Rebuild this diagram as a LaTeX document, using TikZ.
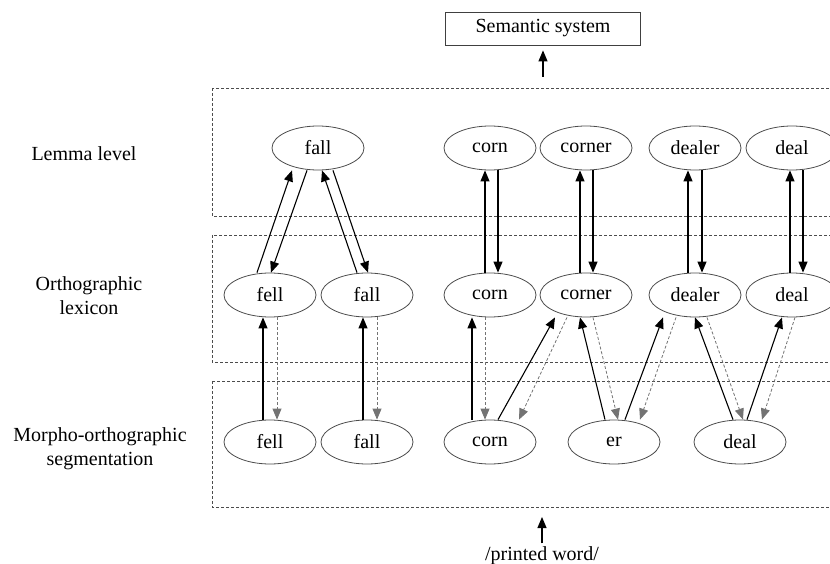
\documentclass[tikz,border=0pt]{standalone}
\usepackage{fontspec}
\setmainfont{Liberation Serif}
\usetikzlibrary{shapes.geometric,arrows.meta}

\tikzset{
    lex/.style={draw=black!70,line width=0.8pt,ellipse,minimum width=92pt,minimum height=44pt,inner sep=0pt},
    layer/.style={draw=black!70,dash pattern=on 3pt off 2pt,line width=0.8pt},
    solidarr/.style={-{Triangle[length=11pt,width=9pt]},line width=1.1pt},
    dotarr/.style={-{Triangle[length=11pt,width=9pt]},draw=black!55,dash pattern=on 3pt off 2pt,line width=0.8pt}
}

\begin{document}
\begin{tikzpicture}[x=1pt,y=-1pt,font=\fontsize{20}{24}\selectfont]
    \clip (0,0) rectangle (830,564);

    \draw[layer] (212,88) rectangle (840,216);
    \draw[layer] (212,235) rectangle (840,362);
    \draw[layer] (212,381) rectangle (840,507);

    \node (lemmalbl) at (84,154) {Lemma level};
    \node[align=center] (ortholbl) at (89,296) {Orthographic\\lexicon};
    \node[align=center] (morpholbl) at (100,449) {Morpho-orthographic\\segmentation};

    \node[draw=black!75,line width=0.8pt,minimum width=195pt,minimum height=33pt,inner sep=0pt] (sem) at (543,28.5) {Semantic system};
    \coordinate (semtail) at (543,77);
    \node (word) at (542,556) {/printed word/};
    \coordinate (wordhead) at (542,517);

    \node[lex] (lfall) at (318,148) {fall};
    \node[lex] (lcorn) at (490,148) {corn};
    \node[lex] (lcorner) at (586,148) {corner};
    \node[lex] (ldealer) at (695,148) {dealer};
    \node[lex] (ldeal) at (792,148) {deal};

    \node[lex] (ofell) at (270,295) {fell};
    \node[lex] (ofall) at (367,295) {fall};
    \node[lex] (ocorn) at (490,295) {corn};
    \node[lex] (ocorner) at (586,295) {corner};
    \node[lex] (odealer) at (695,295) {dealer};
    \node[lex] (odeal) at (792,295) {deal};

    \node[lex] (mfell) at (270,442) {fell};
    \node[lex] (mfall) at (367,442) {fall};
    \node[lex] (mcorn) at (490,442) {corn};
    \node[lex] (mer) at (614,442) {er};
    \node[lex] (mdeal) at (740,442) {deal};

    \draw[solidarr,shorten >=5pt] (semtail) -- (sem);
    \draw[solidarr] (word) -- (wordhead);

    \draw[solidarr] ([xshift=-13pt]ofell.north) -- ([xshift=-26pt]lfall.south);
    \draw[solidarr] ([xshift=-11pt]lfall.south) -- ([xshift=1pt]ofell.north);
    \draw[solidarr] ([xshift=-10pt]ofall.north) -- ([xshift=4pt]lfall.south);
    \draw[solidarr] ([xshift=15pt]lfall.south) -- ([xshift=1pt]ofall.north);
    \draw[solidarr] ([xshift=-5pt]ocorn.north) -- ([xshift=-5pt]lcorn.south);
    \draw[solidarr] ([xshift=8pt]lcorn.south) -- ([xshift=8pt]ocorn.north);
    \draw[solidarr] ([xshift=-6pt]ocorner.north) -- ([xshift=-6pt]lcorner.south);
    \draw[solidarr] ([xshift=7pt]lcorner.south) -- ([xshift=7pt]ocorner.north);
    \draw[solidarr] ([xshift=-7pt]odealer.north) -- ([xshift=-7pt]ldealer.south);
    \draw[solidarr] ([xshift=7pt]ldealer.south) -- ([xshift=7pt]odealer.north);
    \draw[solidarr] ([xshift=-2pt]odeal.north) -- ([xshift=-2pt]ldeal.south);
    \draw[solidarr] ([xshift=11pt]ldeal.south) -- ([xshift=11pt]odeal.north);

    \draw[solidarr] ([xshift=-7pt]mfell.north) -- ([xshift=-7pt]ofell.south);
    \draw[dotarr] ([xshift=7pt]ofell.south) -- ([xshift=7pt]mfell.north);
    \draw[solidarr] ([xshift=-4pt]mfall.north) -- ([xshift=-4pt]ofall.south);
    \draw[dotarr] ([xshift=10pt]ofall.south) -- ([xshift=10pt]mfall.north);
    \draw[solidarr] ([xshift=-18pt]mcorn.north) -- ([xshift=-18pt]ocorn.south);
    \draw[dotarr] ([xshift=-5pt]ocorn.south) -- ([xshift=-5pt]mcorn.north);
    \draw[solidarr] ([xshift=8pt]mcorn.north) -- ([xshift=-31pt]ocorner.south);
    \draw[dotarr] ([xshift=-19pt]ocorner.south) -- ([xshift=29pt]mcorn.north);
    \draw[solidarr] ([xshift=-9pt]mer.north) -- ([xshift=-6pt]ocorner.south);
    \draw[dotarr] ([xshift=7pt]ocorner.south) -- ([xshift=4pt]mer.north);
    \draw[solidarr] ([xshift=11pt]mer.north) -- ([xshift=-32pt]odealer.south);
    \draw[dotarr] ([xshift=-19pt]odealer.south) -- ([xshift=26pt]mer.north);
    \draw[solidarr] ([xshift=-7pt]mdeal.north) -- (odealer.south);
    \draw[dotarr] ([xshift=12pt]odealer.south) -- ([xshift=3pt]mdeal.north);
    \draw[solidarr] ([xshift=7pt]mdeal.north) -- ([xshift=-10pt]odeal.south);
    \draw[dotarr] ([xshift=3pt]odeal.south) -- ([xshift=22pt]mdeal.north);
\end{tikzpicture}
\end{document}
